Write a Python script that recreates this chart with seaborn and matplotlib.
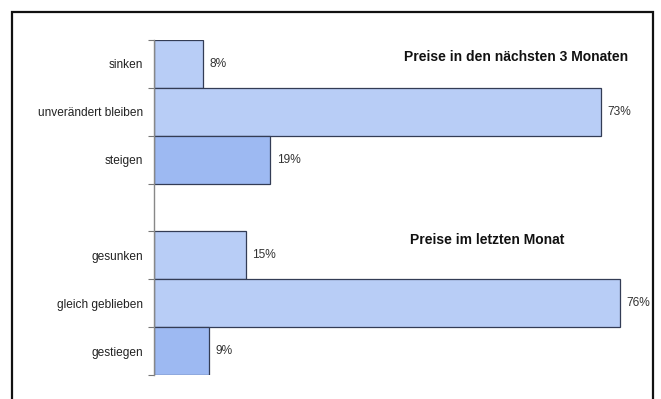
import matplotlib
matplotlib.use("Agg")
import matplotlib.pyplot as plt
import matplotlib.patches as mpatches
import seaborn as sns
import pandas as pd
import numpy as np

# Survey answers on price development (share of respondents, %)
categories = ["sinken", "unverändert bleiben", "steigen", " ",
              "gesunken", "gleich geblieben", "gestiegen"]
values = [8, 73, 19, np.nan, 15, 76, 9]
kinds = ["fall", "same", "rise", "none", "fall", "same", "rise"]
group_titles = ["Preise in den nächsten 3 Monaten", "Preise im letzten Monat"]

palette = {"fall": "#b8cdf6", "same": "#b8cdf6", "rise": "#9db9f2", "none": "#ffffff"}

df = pd.DataFrame({"Antwort": categories, "Anteil": values, "Art": kinds})

sns.set_theme(style="white")
plt.rcParams["font.family"] = ["Liberation Sans", "DejaVu Sans"]

W, H = 661, 399
fig = plt.figure(figsize=(W / 100, H / 100), dpi=100)
ax = fig.add_axes([154 / W, (H - 375) / H, 500 / W, 335 / H])

sns.barplot(data=df, x="Anteil", y="Antwort", hue="Art", palette=palette,
            order=categories, orient="h", width=1.0, dodge=False, saturation=1,
            edgecolor="#333c55", linewidth=0.9, legend=False, ax=ax)

ax.set_xlim(0, 500 / 6.13)
ax.set_ylim(6.5, -0.5)
ax.set_xlabel("")
ax.set_ylabel("")
ax.set_xticks([])

# category labels without tick marks, tick marks at the bar boundaries
ax.tick_params(axis="y", which="major", length=0, pad=8, labelsize=8.6, labelcolor="#222222")
ax.set_yticks(np.arange(-0.5, 7.0, 1.0), minor=True)
ax.tick_params(axis="y", which="minor", length=4, width=0.8, color="#777777", left=True)

for side in ["top", "right", "bottom"]:
    ax.spines[side].set_visible(False)
ax.spines["left"].set_color("#888888")
ax.spines["left"].set_linewidth(1.0)

# value labels next to each bar
for i, v in enumerate(values):
    if not np.isnan(v):
        ax.text(v + 1.0, i, f"{v:.0f}%", va="center", ha="left",
                fontsize=8.6, color="#333333")

# group headings
fig.text(628 / W, 1 - 57 / H, group_titles[0], ha="right", va="center",
         fontsize=10, fontweight="bold", color="#111111")
fig.text(487 / W, 1 - 240 / H, group_titles[1], ha="center", va="center",
         fontsize=10, fontweight="bold", color="#111111")

# outer frame
frame = mpatches.Rectangle((11.5 / W, -0.05), (653 - 11.5) / W, 1.05 - 11.5 / H,
                           transform=fig.transFigure, fill=False,
                           edgecolor="#111111", linewidth=1.6, clip_on=False)
fig.patches.append(frame)

fig.savefig("out.png", dpi=100)
